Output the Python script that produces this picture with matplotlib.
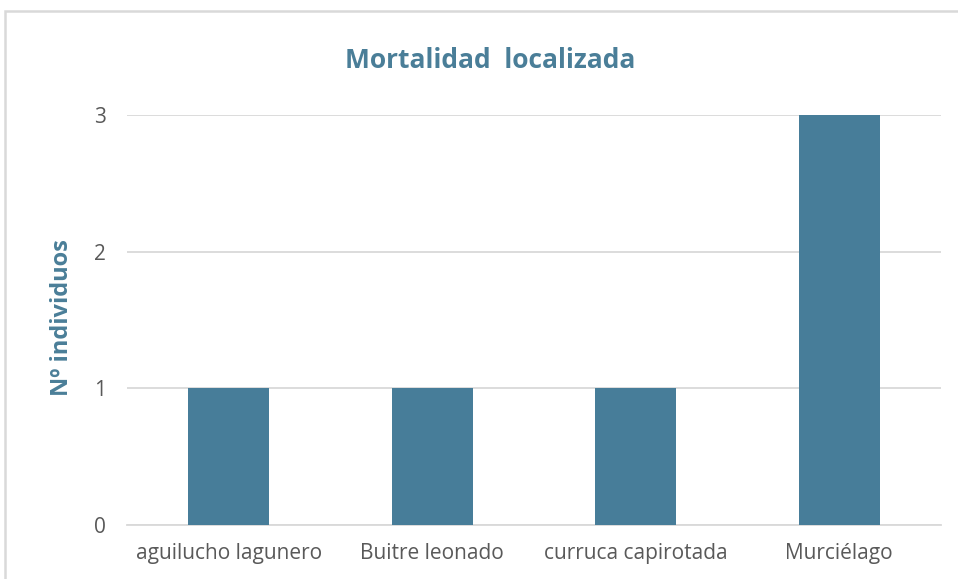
import matplotlib
matplotlib.use("Agg")
import matplotlib.pyplot as plt
from matplotlib.patches import Rectangle

categories = ["aguilucho lagunero", "Buitre leonado", "curruca capirotada", "Murciélago"]
values = [1, 1, 1, 3]
yticks = [0, 1, 2, 3]

title = "Mortalidad  localizada"
ylabel = "Nº individuos"

bar_color = "#477D99"
text_color = "#4A7E98"
tick_color = "#595959"
grid_color = "#D9D9D9"

plt.rcParams['font.family'] = ['Open Sans', 'DejaVu Sans']

fig = plt.figure(figsize=(9.58, 5.79), dpi=100)
ax = fig.add_axes([127/958, 1-525/579, (941-127)/958, (525-115)/579])

x = list(range(len(categories)))
ax.bar(x, values, width=0.40, color=bar_color, zorder=3)
ax.set_xlim(-0.5, len(categories) - 0.5)
ax.set_ylim(0, 3)
ax.set_yticks(yticks)
ax.set_xticks(x)
ax.set_xticklabels(categories, fontsize=15, color=tick_color)
ax.tick_params(axis='y', labelsize=15, labelcolor=tick_color, length=0, pad=15)
ax.tick_params(axis='x', length=0, pad=13)
ax.yaxis.grid(True, color=grid_color, linewidth=1.3, zorder=0)
for s in ax.spines.values():
    s.set_visible(False)
ax.spines['bottom'].set_visible(True)
ax.spines['bottom'].set_color(grid_color)
ax.spines['bottom'].set_linewidth(1.3)

ax.set_ylabel(ylabel, fontsize=17, fontweight='bold', color=text_color)
ax.yaxis.set_label_coords((74 - 127) / (941 - 127), (525 - 318) / (525 - 115))
fig.text(490/958, 1-60/579, title, fontsize=19, fontweight='bold', color=text_color,
         ha='center', va='center')

fig.patches.append(Rectangle((5/958, -0.05), 1.1, 1.05 - 11/579, transform=fig.transFigure,
                             fill=False, edgecolor=grid_color, linewidth=1.8))

fig.savefig("out.png", dpi=100)
